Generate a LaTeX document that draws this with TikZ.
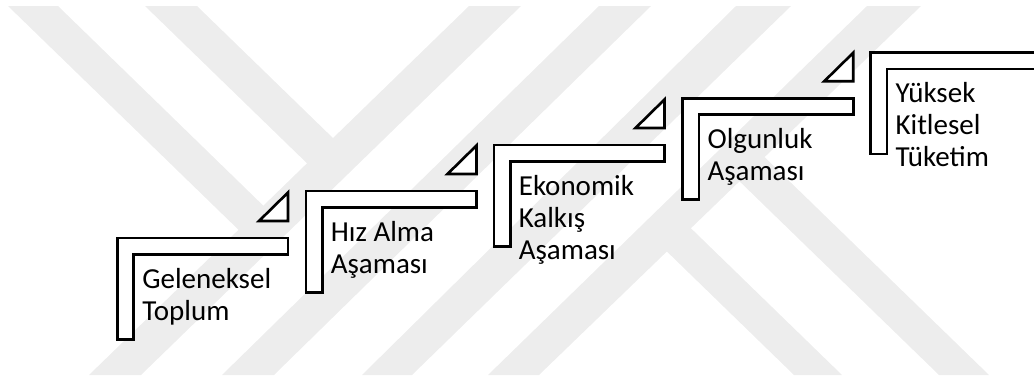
\documentclass[tikz,border=0pt]{standalone}
\usepackage{fontspec}
\setmainfont{Carlito}
\usepackage{xcolor}
\usepackage{tikz}
\usetikzlibrary{positioning, calc}
\definecolor{wmgray}{HTML}{EDEDED}
\newcommand{\stagefont}{\fontsize{16.5}{18.2}\selectfont}
\tikzstyle{stair} = [draw=black, line width=1.5pt, fill=white, line join=miter]
\tikzstyle{wedge} = [draw=black, line width=1.5pt, fill=white]
\tikzstyle{stagetext} = [font=\stagefont, align=left, inner sep=0pt, anchor=base west]
\tikzstyle{band} = [fill=wmgray, draw=none]

\begin{document}
\begin{tikzpicture}[x=0.02cm, y=-0.02cm]
\useasboundingbox (0,0) rectangle (1034,379);
\clip (0,0) rectangle (1034,379);

% watermark in the background
\fill[band] (469,6) -- (521,6) -- (141,375) -- (89,375) -- cycle;
\fill[band] (599,6) -- (651,6) -- (274,375) -- (222,375) -- cycle;
\fill[band] (736,6) -- (791,6) -- (412,375) -- (362,375) -- cycle;
\fill[band] (867,6) -- (921,6) -- (539,375) -- (488,375) -- cycle;
\fill[band] (8,6) -- (58,6) -- (276,218) -- (251.5,242.4) -- cycle;
\fill[band] (145,6) -- (197,6) -- (346,150.7) -- (320,175.9) -- cycle;
\fill[band] (794,375) -- (842,375) -- (678,215.7) -- (654,239) -- cycle;
\fill[band] (939,375) -- (989,375) -- (751.4,144.3) -- (726.4,168.6) -- cycle;

% corners of the steps
\coordinate (s1) at (117.5,238);
\coordinate (s2) at (306,191);
\coordinate (s3) at (494,145);
\coordinate (s4) at (682.7,98.3);
\coordinate (s5) at (870.7,52.7);

% steps
\draw[stair] (s1) ++(0,101.3) -- ++(0,-101.3) -- ++(170.5,0) -- ++(0,16.3) -- ++(-154.2,0) -- ++(0,85) -- cycle;
\draw[stair] (s2) ++(0,101.3) -- ++(0,-101.3) -- ++(170.5,0) -- ++(0,16.3) -- ++(-154.2,0) -- ++(0,85) -- cycle;
\draw[stair] (s3) ++(0,101.3) -- ++(0,-101.3) -- ++(170.5,0) -- ++(0,16.3) -- ++(-154.2,0) -- ++(0,85) -- cycle;
\draw[stair] (s4) ++(0,101.3) -- ++(0,-101.3) -- ++(170.5,0) -- ++(0,16.3) -- ++(-154.2,0) -- ++(0,85) -- cycle;
\draw[stair] (s5) ++(0,101.3) -- ++(0,-101.3) -- ++(190,0) -- ++(0,16.3) -- ++(-173.7,0) -- ++(0,85) -- cycle;

% small triangles
\draw[wedge] (s1) ++(141.5,-17) -- ++(29,0) -- ++(0,-28.5) -- cycle;
\draw[wedge] (s2) ++(141.5,-17) -- ++(29,0) -- ++(0,-28.5) -- cycle;
\draw[wedge] (s3) ++(141.5,-17) -- ++(29,0) -- ++(0,-28.5) -- cycle;
\draw[wedge] (s4) ++(141.5,-17) -- ++(29,0) -- ++(0,-28.5) -- cycle;

% labels (base = last line)
\node (geleneksel) [stagetext] at ([shift={(24.5,82)}]s1) {Geleneksel\\Toplum};
\node (hizalma) [stagetext] at ([shift={(24.5,82)}]s2) {Hız Alma\\Aşaması};
\node (kalkis) [stagetext] at ([shift={(24.5,114)}]s3) {Ekonomik\\Kalkış\\Aşaması};
\node (olgunluk) [stagetext] at ([shift={(24.5,82)}]s4) {Olgunluk\\Aşaması};
\node (tuketim) [stagetext] at ([shift={(24.5,114)}]s5) {Yüksek\\Kitlesel\\Tüketim};
\end{tikzpicture}
\end{document}
